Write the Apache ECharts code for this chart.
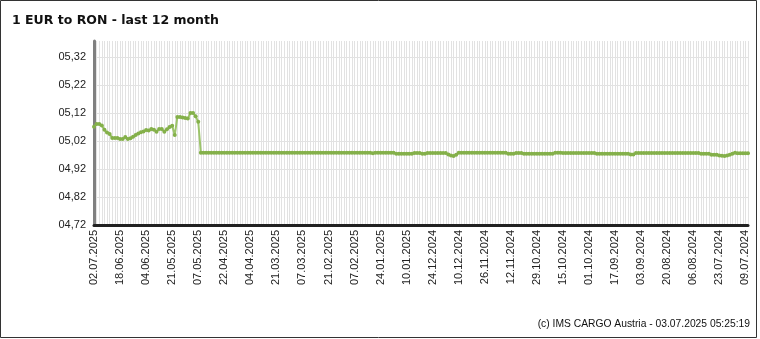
<!DOCTYPE html>
<html>
<head>
<meta charset="utf-8">
<script src="https://cdn.jsdelivr.net/npm/echarts@6/dist/echarts.min.js"></script>
<style>
html,body{margin:0;padding:0;background:#fff;}
#chart{width:760px;height:339px;}
</style>
</head>
<body>
<div id="chart"></div>
<script>
// ---- data ----
var chartTitle = '1 EUR to RON - last 12 month';
var footerText = '(c) IMS CARGO Austria - 03.07.2025 05:25:19';
var firstDate = '02.07.2025';
var pointCount = 252;
var holidays = ['01.05.2025','21.04.2025','18.04.2025','01.01.2025','26.12.2024','25.12.2024'];
var yTicks = [4.72, 4.82, 4.92, 5.02, 5.12, 5.22, 5.32];

// values, newest first (02.07.2025 -> 08.07.2024)
var ratesRecent = [
 5.071,5.081,5.081,5.075,5.060,5.050,5.045,5.031,5.031,5.031,
 5.027,5.027,5.034,5.027,5.030,5.035,5.041,5.047,5.051,5.054,
 5.059,5.057,5.063,5.060,5.053,5.063,5.063,5.053,5.062,5.070,
 5.074,5.041,5.106,5.106,5.104,5.102,5.100,5.120,5.120,5.108,
 5.089
];
var ratesMiddle = [
 4.978,4.978,4.978,4.978,4.978,4.978,4.978,4.978,4.978,4.978,
 4.978,4.978,4.978,4.978,4.978,4.978,4.978,4.978,4.978,4.978,
 4.978,4.978,4.978,4.978,4.978,4.978,4.978,4.978,4.978,4.978,
 4.978,4.978,4.978,4.978,4.978,4.978,4.978,4.978,4.978,4.978,
 4.978,4.978,4.978,4.978,4.978,4.978,4.978,4.978,4.978,4.978,
 4.978,4.978,4.978,4.978,4.978,4.978,4.978,4.978,4.978,4.978,
 4.978,4.978,4.978,4.978,4.978,4.978,4.976,4.978,4.978,4.978,
 4.978,4.978,4.978,4.978,4.978,4.974,4.974,4.974,4.974,4.974,
 4.974,4.974,4.977,4.977,4.977,4.974,4.974,4.977,4.977,4.977,
 4.977,4.977,4.977,4.977,4.977,4.972,4.968,4.966,4.971,4.978
];
var ratesOld = [
 4.978,4.978,4.978,4.978,4.978,4.978,4.978,4.978,4.978,4.978,
 4.978,4.978,4.978,4.978,4.978,4.978,4.978,4.978,4.974,4.974,
 4.974,4.977,4.977,4.977,4.974,4.974,4.974,4.974,4.974,4.974,
 4.974,4.974,4.974,4.974,4.974,4.974,4.978,4.978,4.978,4.977,
 4.977,4.977,4.977,4.977,4.977,4.977,4.977,4.977,4.977,4.977,
 4.977,4.977,4.974,4.974,4.974,4.974,4.974,4.974,4.974,4.974,
 4.974,4.974,4.974,4.974,4.974,4.972,4.972,4.977,4.977,4.977,
 4.977,4.977,4.977,4.977,4.977,4.977,4.977,4.977,4.977,4.977,
 4.977,4.977,4.977,4.977,4.977,4.977,4.977,4.977,4.977,4.977,
 4.977,4.977,4.974,4.974,4.974,4.974,4.971,4.971,4.971,4.968,
 4.967,4.966,4.968,4.971,4.974,4.978,4.976,4.976,4.976,4.976,
 4.976
];

// ---- build business-day categories (newest first) ----
function pad(n){return (n<10?'0':'')+n;}
function fmt(d){return pad(d.getDate())+'.'+pad(d.getMonth()+1)+'.'+d.getFullYear();}
var dates = [];
(function(){
  var p = firstDate.split('.');
  var d = new Date(+p[2], +p[1]-1, +p[0]);
  while (dates.length < pointCount) {
    var wd = d.getDay();
    var s = fmt(d);
    if (wd !== 0 && wd !== 6 && holidays.indexOf(s) < 0) dates.push(s);
    d.setDate(d.getDate()-1);
  }
})();
var rates = ratesRecent.concat(ratesMiddle, ratesOld);

var chart = echarts.init(document.getElementById('chart'), null, {renderer:'canvas'});
chart.setOption({
  animation: false,
  backgroundColor: '#fff',
  title: {
    text: chartTitle, left: 7, top: 9,
    textStyle: {fontFamily: 'DejaVu Sans', fontSize: 12.5, fontWeight: 'bold', color: '#111'}
  },
  grid: {left: 94, right: 12, top: 41, bottom: 114, containLabel: false},
  xAxis: {
    type: 'category', data: dates, boundaryGap: false,
    axisLine: {show: true, lineStyle: {color: '#222', width: 3}},
    axisTick: {show: false},
    axisLabel: {interval: 9, rotate: 90, margin: 5, fontFamily: 'Liberation Sans', fontSize: 11, color: '#222'},
    splitLine: {show: true, interval: 0, lineStyle: {color: '#e2e2e2', width: 1}}
  },
  yAxis: {
    type: 'value', min: yTicks[0], max: 5.377, interval: 0.1,
    axisLine: {show: true, lineStyle: {color: '#808080', width: 3}},
    axisTick: {show: false},
    axisLabel: {
      margin: 8, fontFamily: 'Liberation Sans', fontSize: 11, color: '#222', showMaxLabel: false,
      formatter: function(v){
        var best = null;
        yTicks.forEach(function(t){ if (Math.abs(t - v) < 0.001) best = t; });
        return best === null ? '' : '0' + best.toFixed(2).replace('.', ',');
      }
    },
    splitLine: {show: true, showMaxLine: false, lineStyle: {color: '#e2e2e2', width: 1}}
  },
  series: [{
    type: 'line', data: rates,
    symbol: 'circle', symbolSize: 4, showSymbol: true, showAllSymbol: true,
    lineStyle: {color: '#9cc46a', width: 2},
    itemStyle: {color: '#84b04a', borderWidth: 0}
  }],
  graphic: [
    {type: 'text', x: 750, y: 324,
     style: {text: footerText, textAlign: 'right', textVerticalAlign: 'middle',
              fontFamily: 'Liberation Sans', fontSize: 10.3, fill: '#111'}},
    {type: 'rect', shape: {x: 0.5, y: 0.5, width: 756, height: 337},
     style: {fill: null, stroke: '#333', lineWidth: 1}, silent: true}
  ]
});
</script>
</body>
</html>
